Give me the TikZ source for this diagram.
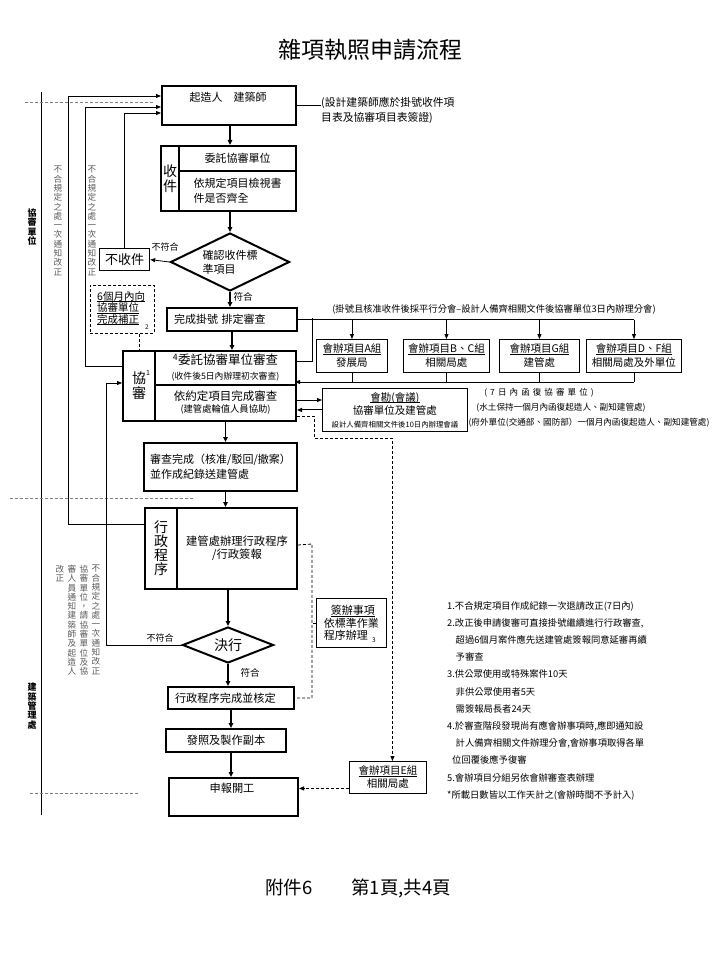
\documentclass[tikz,border=0pt]{standalone}
\usepackage{fontspec}
\setmainfont{Noto Sans CJK TC}
\usetikzlibrary{positioning, arrows.meta, shapes.geometric}
\definecolor{notegray}{HTML}{5A5A5A}
\definecolor{lanegray}{HTML}{808080}
\newcommand\fsz[2]{\fontsize{#1}{#2}\selectfont}
\newcommand\gapsp{\hspace{3.1pt}}
\newcommand\undl[1]{\setbox0\hbox{#1}\leavevmode\rlap{\rule[-1.8pt]{\wd0}{0.7pt}}\box0}

\tikzset{
  thickbox/.style={draw, line width=2pt, inner sep=0pt, anchor=north west},
  thinbox/.style={draw, line width=0.9pt, inner sep=0pt, anchor=north west},
  decision/.style={diamond, draw, line width=2pt, aspect=2.2, inner sep=0pt},
  flow/.style={line width=1.6pt, -{Triangle[length=5pt,width=4.5pt]}},
  link/.style={line width=0.8pt},
  linkarr/.style={line width=0.8pt, -{Triangle[length=5pt,width=4pt]}},
  dashlink/.style={line width=0.8pt, dash pattern=on 3pt off 2pt},
  lane/.style={lanegray, line width=0.8pt, dash pattern=on 3pt off 2pt},
  vnote/.style={notegray, font=\fsz{8.6}{9.3}, align=center, anchor=north, inner sep=0pt}
}

\begin{document}
\begin{tikzpicture}[x=1pt, y=-1pt]
  \useasboundingbox (0,0) rectangle (720,960);

  \node[font=\fsz{23}{25}] (title) at (370,50) {雜項執照申請流程};

  % swim lanes
  \draw[line width=0.8pt] (41,92) -- (41,815);
  \draw[lane] (25,102) -- (155,102);
  \draw[lane] (10,498) -- (193,498);
  \draw[lane] (30,793) -- (138,793);
  \node[font=\fsz{9}{9.3}\bfseries, align=center] (laneA) at (32,227) {協\\審\\單\\位};
  \node[font=\fsz{9}{9.4}\bfseries, align=center] (laneB) at (32,706) {建\\築\\管\\理\\處};

  % application
  \node[thickbox, minimum width=134, minimum height=39] (builder) at (161,85) {};
  \node[font=\fsz{11}{13}] (buildert) at (228,97) {起造人　建築師};
  \node[anchor=west, font=\fsz{10.8}{15}, align=left, inner sep=0pt] (bnote) at (321,110)
    {(設計建築師應於掛號收件項\\目表及協審項目表簽證)};
  \draw[link] (builder.east) -- (builder.east -| bnote.west);

  \node[thickbox, minimum width=18, minimum height=65, font=\fsz{14}{15}, align=center] (recvL) at (160,145) {收\\件};
  \node[thickbox, minimum width=117, minimum height=25, font=\fsz{11}{13}] (recvT) at (178,145) {委託協審單位};
  \node[thickbox, minimum width=117, minimum height=40, font=\fsz{11}{15}, align=left] (recvB) at (178,170) {依規定項目檢視書\\件是否齊全};

  \node[decision, minimum width=119, minimum height=58, font=\fsz{11}{14}, align=left] (check) at (230,262) {確認收件標\\準項目};
  \node[thinbox, line width=1.2pt, minimum width=50, minimum height=22, font=\fsz{13}{15}] (reject) at (99,248) {不收件};
  \node[font=\fsz{9}{10}] (ngA) at (165,247) {不符合};

  \draw[flow] (builder.south -| check) -- (recvT.north -| check);
  \draw[flow] (recvB.south -| check) -- (check.north);
  \draw[linkarr] (check.west) -- (reject.east);

  \coordinate (in1) at (161,96);
  \coordinate (in2) at (161,107);
  \coordinate (in3) at (161,113);
  \draw[linkarr] (reject.north) |- (in3);

  \node[vnote] (noteA) at (58,166) {不\\合\\規\\定\\之\\處\\一\\次\\通\\知\\改\\正};
  \node[vnote] (noteB) at (92,166) {不\\合\\規\\定\\之\\處\\一\\次\\通\\知\\改\\正};

  \node[thinbox, dashlink, minimum width=64, minimum height=48] (fix6) at (90,285) {};
  \node[font=\fsz{10.5}{11.5}, align=left, anchor=north west, inner sep=0pt] (fix6t) at (97,291)
    {\undl{6個月內向}\\\undl{協審單位}\\\undl{完成補正}};
  \node[font=\fsz{6.5}{7}] (fix6n) at (147,327) {2};

  \node[thickbox, minimum width=130, minimum height=23, font=\fsz{11}{13}, text width=116, align=left] (reg) at (166,307) {完成掛號\ 排定審查};
  \node[font=\fsz{9.5}{10}] (okA) at (243,297) {符合};
  \draw[flow] (check.south) -- (check.south |- reg.north);

  % review by the assisting unit
  \node[thickbox, minimum width=32, minimum height=70, font=\fsz{14}{15}, align=center] (xsL) at (122,350) {協\\審};
  \node[font=\fsz{7}{8}] (xsLn) at (148,373) {1};
  \node[thickbox, minimum width=141, minimum height=34, font=\fsz{12}{15}, align=center] (xsT) at (154,350)
    {{\fsz{12.5}{15}\textsuperscript{4}委託協審單位審查}\\{\fsz{8.8}{11}(收件後5日內辦理初次審查)}};
  \node[thickbox, minimum width=141, minimum height=36, font=\fsz{11.5}{12}, align=center] (xsB) at (154,384)
    {依約定項目完成審查\\{\fsz{9.3}{11}(建管處輪值人員協助)}};
  \draw[flow] (reg.south) -- (reg.south |- xsT.north);
  \draw[dashlink] (fix6.south -| xsL) -- (xsL.north);

  % parallel meetings
  \node[font=\fsz{9.3}{10}] (parnote) at (494,309) {(掛號且核准收件後採平行分會--設計人備齊相關文件後協審單位3日內辦理分會)};
  \coordinate (busB) at (295,382);
  \foreach \nm/\xx/\ww/\ta/\tb in {mA/316/71/會辦項目A組/發展局, mBC/403/86/會辦項目B、C組/相關局處,
      mG/499/80/會辦項目G組/建管處, mDF/586/95/會辦項目D、F組/相關局處及外單位}{
    \node[thinbox, minimum width=\ww, minimum height=33, font=\fsz{10.5}{14}, align=center] (\nm) at (\xx,339) {\undl{\ta}\\\tb};
    \draw[linkarr] (\nm.north |- reg.east) -- (\nm.north);
    \draw[link] (\nm.south) -- (\nm.south |- busB);
  }
  \draw[link] (reg.east) -- (reg.east -| mDF.north);
  \coordinate (tapT) at (312,318);
  \draw[link] (tapT) |- ([yshift=7pt]xsT.east);
  \draw[linkarr] (mDF.south |- busB) -- (busB);

  \node[thinbox, minimum width=145, minimum height=43, font=\fsz{10.5}{13}, align=center] (site) at (322,388)
    {\undl{會勘(會議)}\\協審單位及建管處\\{\fsz{7.4}{9}設計人備齊相關文件後10日內辦理會議}};
  \draw[line width=1pt, -{Triangle[length=5pt,width=4pt]}] ([yshift=3pt]xsB.east) -- ([yshift=3pt]xsB.east -| site.west);
  \draw[line width=1pt, -{Triangle[length=5pt,width=4pt]}] (site.west) -- (site.west -| xsB.east);

  \node[font=\fsz{8.5}{10}] (reply7) at (539,393)
    {(\gapsp{}7\gapsp{}日\gapsp{}內\gapsp{}函\gapsp{}復\gapsp{}協\gapsp{}審\gapsp{}單\gapsp{}位\gapsp{})};
  \node[font=\fsz{8.6}{10}] (replyW) at (561,408) {(水土保持一個月內函復起造人、副知建管處)};
  \node[font=\fsz{8.6}{10}] (replyF) at (589,423) {(府外單位(交通部、國防部）一個月內函復起造人、副知建管處)};

  % review done and administration
  \node[thickbox, minimum width=153, minimum height=48, font=\fsz{11}{15}, align=left] (done) at (143,442)
    {審查完成（核准/駁回/撤案）\\並作成紀錄送建管處};
  \draw[flow] (xsB.south) -- (xsB.south |- done.north);

  \node[thickbox, minimum width=32, minimum height=81, font=\fsz{14}{14}, align=center] (admL) at (144,507) {行\\政\\程\\序};
  \node[thickbox, minimum width=120, minimum height=81, font=\fsz{11.3}{13}, align=center] (admR) at (176,507) {建管處辦理行政程序\\/行政簽報};
  \draw[flow] (done.south -| xsB.south) -- (admR.north -| xsB.south);

  \coordinate (railA) at (68,96);
  \coordinate (railB) at (85,107);
  \coordinate (railC) at (106,383);
  \draw[linkarr] ([yshift=24.5pt]admL.west) -| (railA) -- (in1);
  \draw[linkarr] ([yshift=20pt]xsL.west) -| (railB) -- (in2);

  \node[decision, minimum width=91, minimum height=36, font=\fsz{14}{15}] (decide) at (228,645) {決行};
  \draw[flow] (decide.north |- admR.south) -- (decide.north);
  \draw[linkarr] (decide.west) -| (railC) -- (railC -| xsL.west);
  \node[font=\fsz{9}{10}] (ngB) at (160,638) {不符合};
  \node[font=\fsz{9.5}{10}] (okB) at (250,673) {符合};

  \node[vnote] (noteC) at (96,565) {不\\合\\規\\定\\之\\處\\一\\次\\通\\知\\改\\正};
  \node[vnote] (noteD) at (84,565) {協\\審\\單\\位\\，\\請\\協\\審\\單\\位\\及\\協};
  \node[vnote] (noteE) at (72,565) {審\\人\\員\\通\\知\\建\\築\\師\\及\\起\\造\\人};
  \node[vnote] (noteF) at (60,565) {改\\正};

  \node[thickbox, minimum width=126, minimum height=22, font=\fsz{11.2}{13}, text width=112, align=left] (approve) at (167,686) {行政程序完成並核定};
  \draw[flow] (decide.south) -- (decide.south |- approve.north);

  \node[thinbox, minimum width=70, minimum height=49, font=\fsz{11}{12.5}, align=left] (sign) at (316,598)
    {\hspace*{7pt}\undl{簽辦事項}\\依標準作業\\程序辦理};
  \node[font=\fsz{6.5}{7}] (signn) at (374,640) {3};
  \coordinate (brk) at (312,544);
  \draw[dashlink] ([yshift=3.5pt]admR.east) -- (brk) |- (approve.east);
  \draw[dashlink] (sign.west) -- (sign.west -| brk);

  \node[thickbox, minimum width=120, minimum height=23, font=\fsz{11.2}{13}] (issue) at (165,728) {發照及製作副本};
  \draw[flow] (approve.south) -- (approve.south |- issue.north);

  \node[thickbox, minimum width=129, minimum height=38] (start) at (168,777) {};
  \node[font=\fsz{11.2}{13}] (startt) at (232,788) {申報開工};
  \draw[flow] (issue.south -| approve.south) -- (start.north -| approve.south);

  \node[thinbox, minimum width=77, minimum height=32, font=\fsz{10.5}{13}, align=center] (eGroup) at (349,761)
    {\undl{會辦項目E組}\\相關局處};
  \draw[dashlink, -{Triangle[length=5pt,width=4pt]}] ([yshift=-13pt]xsB.east) -- ++(17,0) -- ++(0,22) -| ([xshift=4.5pt]eGroup.north);
  \draw[dashlink, -{Triangle[length=5pt,width=4pt]}] ([yshift=-11pt]eGroup.west) -- ([yshift=-11pt]eGroup.west -| start.east);

  % remarks
  \node[anchor=north west, inner sep=0pt, align=left, font=\fsz{9.3}{17.2}] (rules) at (447,601)
    {1.不合規定項目作成紀錄一次退請改正(7日內)\\
     2.改正後申請復審可直接掛號繼續進行行政審查,\\
     \hspace*{8.5pt}超過6個月案件應先送建管處簽報同意延審再續\\
     \hspace*{8.5pt}予審查\\
     3.供公眾使用或特殊案件10天\\
     \hspace*{8.5pt}非供公眾使用者5天\\
     \hspace*{8.5pt}需簽報局長者24天\\
     4.於審查階段發現尚有應會辦事項時,應即通知設\\
     \hspace*{8.5pt}計人備齊相關文件辦理分會,會辦事項取得各單\\
     \hspace*{5pt}位回覆後應予復審\\
     5.會辦項目分組另依會辦審查表辦理\\
     *所載日數皆以工作天計之(會辦時間不予計入)};

  \node[font=\fsz{18.5}{20}] (page) at (358,888) {附件6\hspace{39pt}第1頁,共4頁};
\end{tikzpicture}
\end{document}
